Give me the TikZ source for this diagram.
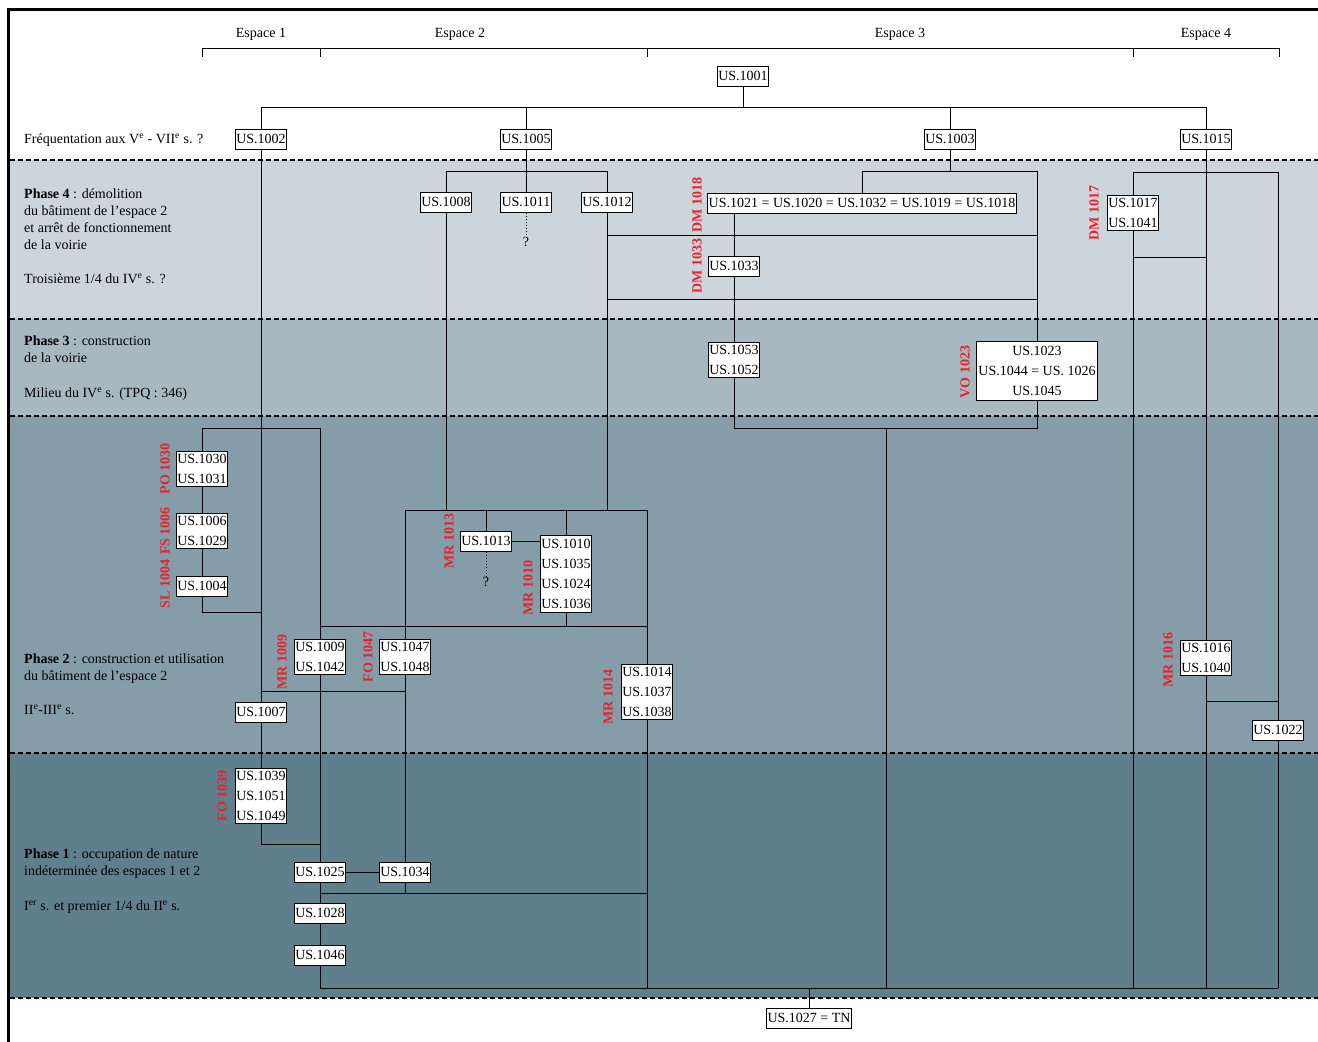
\documentclass[tikz,border=0pt]{standalone}
\usepackage{fontspec}
\setmainfont{Liberation Serif}
\definecolor{bandD}{HTML}{CBD5DB}
\definecolor{bandC}{HTML}{A8B8C1}
\definecolor{bandB}{HTML}{849DA9}
\definecolor{bandA}{HTML}{5F7F8C}
\definecolor{labred}{HTML}{E8212B}
\newcommand\usf{\fontsize{14}{20}\selectfont}
\begin{document}
\begin{tikzpicture}[x=1pt,y=-1pt,
  us/.style={draw, line width=1pt, fill=white, font=\usf, inner xsep=1.2pt, inner ysep=3pt, minimum height=20pt, align=center},
  lab/.style={rotate=90, text=labred, font=\usf\bfseries, inner sep=0pt},
  txt/.style={anchor=base west, font=\usf, inner sep=0pt},
  esp/.style={anchor=base, font=\usf, inner sep=0pt},
  con/.style={line width=1pt},
  sep/.style={line width=1.8pt, dash pattern=on 5pt off 3pt}]
\useasboundingbox (0,0) rectangle (1318,1042);
% bands
\fill[bandD] (10,160) rectangle (1318,319);
\fill[bandC] (10,319) rectangle (1318,416);
\fill[bandB] (10,416) rectangle (1318,753);
\fill[bandA] (10,753) rectangle (1318,998);
\draw[line width=2.5pt] (1318,9.5) -- (8.5,9.5) -- (8.5,1042);
\foreach \yy in {160,319,416,753,998} \draw[sep] (10,\yy) -- (1318,\yy);
% espaces
\draw[line width=1pt] (202,57) -- (202,48) -- (1279,48) -- (1279,57);
\foreach \xx in {320,647,1133} \draw[line width=1pt] (\xx,48) -- (\xx,57);
\node[esp] (e1) at (261,37.5) {Espace 1};
\node[esp] (e2) at (460,37.5) {Espace 2};
\node[esp] (e3) at (900,37.5) {Espace 3};
\node[esp] (e4) at (1206,37.5) {Espace 4};
% phase texts
\node[txt] (t0) at (24,143.5) {Fréquentation aux V\textsuperscript{e} - VII\textsuperscript{e} s. ?};
\node[txt] (t4a) at (24,198.5) {\textbf{Phase 4} : démolition};
\node[txt] (t4b) at (24,215.5) {du bâtiment de l’espace 2};
\node[txt] (t4c) at (24,232.5) {et arrêt de fonctionnement};
\node[txt] (t4d) at (24,249.5) {de la voirie};
\node[txt] (t4e) at (24,283.5) {Troisième 1/4 du IV\textsuperscript{e} s. ?};
\node[txt] (t3a) at (24,345.5) {\textbf{Phase 3} : construction};
\node[txt] (t3b) at (24,362.5) {de la voirie};
\node[txt] (t3c) at (24,397.5) {Milieu du IV\textsuperscript{e} s. (TPQ : 346)};
\node[txt] (t2a) at (24,663.5) {\textbf{Phase 2} : construction et utilisation};
\node[txt] (t2b) at (24,680.5) {du bâtiment de l’espace 2};
\node[txt] (t2c) at (24,714.5) {II\textsuperscript{e}-III\textsuperscript{e} s.};
\node[txt] (t1a) at (24,858.5) {\textbf{Phase 1} : occupation de nature};
\node[txt] (t1b) at (24,875.5) {indéterminée des espaces 1 et 2};
\node[txt] (t1c) at (24,910.5) {I\textsuperscript{er} s. et premier 1/4 du II\textsuperscript{e} s.};
% bus coordinates
\coordinate (yA) at (0,107);
\coordinate (yB) at (0,171);
\coordinate (yC) at (0,172);
\coordinate (yD) at (0,428);
\coordinate (yE) at (0,510);
\coordinate (yG) at (0,626);
\coordinate (yF) at (0,988);
% nodes
\node[us] (n1001) at (743,76) {US.1001};
\node[us] (n1002) at (261,139) {US.1002};
\node[us] (n1005) at (526,139) {US.1005};
\node[us] (n1003) at (950,139) {US.1003};
\node[us] (n1015) at (1206,139) {US.1015};
\node[us] (n1008) at (446,202) {US.1008};
\node[us] (n1011) at (526,202) {US.1011};
\node[us] (n1012) at (607,202) {US.1012};
\node[us] (n1021) at (862,203) {US.1021 = US.1020 = US.1032 = US.1019 = US.1018};
\node[us] (n1017) at (1133,213) {US.1017\\US.1041};
\node[us] (n1033) at (734,266) {US.1033};
\node[us] (n1053) at (734,360) {US.1053\\US.1052};
\node[us, inner ysep=4.5pt, inner xsep=2pt] (n1023) at (1037,371) {US.1023\\US.1044 = US. 1026\\US.1045};
\node[us] (n1030) at (202,469) {US.1030\\US.1031};
\node[us] (n1006) at (202,531) {US.1006\\US.1029};
\node[us] (n1004) at (202,586) {US.1004};
\node[us] (n1013) at (486,541) {US.1013};
\node[us, inner ysep=4pt] (n1010) at (566,574) {US.1010\\US.1035\\US.1024\\US.1036};
\node[us] (n1009) at (320,657) {US.1009\\US.1042};
\node[us] (n1047) at (405,657) {US.1047\\US.1048};
\node[us] (n1014) at (647,692) {US.1014\\US.1037\\US.1038};
\node[us] (n1016) at (1206,658) {US.1016\\US.1040};
\node[us] (n1007) at (261,712) {US.1007};
\node[us] (n1022) at (1278,730) {US.1022};
\node[us] (n1039) at (261,796) {US.1039\\US.1051\\US.1049};
\node[us] (n1025) at (320,872) {US.1025};
\node[us] (n1034) at (405,872) {US.1034};
\node[us] (n1028) at (320,913) {US.1028};
\node[us] (n1046) at (320,955) {US.1046};
\node[us] (n1027) at (809,1018) {US.1027 = TN};
\node[font=\usf, inner sep=0pt] (q1011) at (526,242) {?};
\node[font=\usf, inner sep=0pt] (q1013) at (486,582) {?};
% red labels
\node[lab] (l1018) at (697,205) {DM 1018};
\node[lab] (l1033) at (697,266) {DM 1033};
\node[lab] (l1017) at (1094,213) {DM 1017};
\node[lab] (l1023) at (965,372) {VO 1023};
\node[lab] (l1030) at (165,469) {PO 1030};
\node[lab] (l1006) at (165,531) {FS 1006};
\node[lab] (l1004) at (165,584) {SL 1004};
\node[lab] (l1013) at (449,541) {MR 1013};
\node[lab] (l1010) at (528,588) {MR 1010};
\node[lab] (l1009) at (282,662) {MR 1009};
\node[lab] (l1047) at (368,657) {FO 1047};
\node[lab] (l1014) at (608,697) {MR 1014};
\node[lab] (l1016) at (1168,660) {MR 1016};
\node[lab] (l1039) at (222,796) {FO 1039};
% connectors: top
\draw[con] (n1001.south) -- (n1001.south |- yA);
\draw[con] (n1002.north) |- (n1015.north |- yA) -- (n1015.north);
\draw[con] (n1005.north) -- (n1005.north |- yA);
\draw[con] (n1003.north) -- (n1003.north |- yA);
% 1005
\draw[con] (n1005.south) -- (n1005.south |- yB);
\draw[con] (n1008.north) |- (n1012.north |- yB) -- (n1012.north);
\draw[con] (n1011.north) -- (n1011.north |- yB);
\draw[con, dotted] (n1011.south) -- (q1011.north);
% 1003
\draw[con] (n1003.south) -- (n1003.south |- yB);
\draw[con] (n1021.north) |- (n1023.north |- yB) -- (n1023.north);
\draw[con] (n1021.south -| n1033.north) -- (n1033.north);
\draw[con] (n1033.south) -- (n1053.north);
\draw[con] (n1053.south) |- (n1023.south |- yD) -- (n1023.south);
\draw[con] (886,428) -- (886,988);
% 1012
\draw[con] (n1012.south) -- (n1012.south |- yE);
\draw[con] (607,235) -- (1037,235);
\draw[con] (607,299) -- (1037,299);
% 1015
\draw[con] (n1015.south) -- (n1016.north);
\draw[con] (n1017.north) |- (n1022.north |- yC) -- (n1022.north);
\draw[con] (n1017.south) -- (n1017.south |- yF);
\draw[con] (1133,257) -- (1206,257);
\draw[con] (n1016.south) -- (n1016.south |- yF);
\draw[con] (1206,701) -- (1278,701);
\draw[con] (n1022.south) -- (n1022.south |- yF);
% left
\draw[con] (n1002.south) -- (n1007.north);
\draw[con] (n1030.north) |- (n1009.north |- yD) -- (n1009.north);
\draw[con] (n1030.south) -- (n1006.north);
\draw[con] (n1006.south) -- (n1004.north);
\draw[con] (n1004.south) |- (261,612);
\draw[con] (n1008.south) -- (n1008.south |- yE);
\draw[con] (n1047.north) |- (n1014.north |- yE) -- (n1014.north);
\draw[con] (n1013.north) -- (n1013.north |- yE);
\draw[con] (n1010.north) -- (n1010.north |- yE);
\draw[con] (n1013.east) -- (n1013.east -| n1010.west);
\draw[con, dotted] (n1013.south) -- (q1013.north);
\draw[con] (n1010.south) -- (n1010.south |- yG);
\draw[con] (320,626) -- (647,626);
\draw[con] (n1009.south) -- (n1025.north);
\draw[con] (261,691) -- (405,691);
\draw[con] (n1047.south) -- (n1034.north);
\draw[con] (n1007.south) -- (n1039.north);
\draw[con] (n1039.south) |- (320,844);
\draw[con] (n1025.east) -- (n1034.west);
\draw[con] (n1025.south) -- (n1028.north);
\draw[con] (n1028.south) -- (n1046.north);
\draw[con] (n1046.south) |- (n1022.south |- yF);
\draw[con] (n1034.south) -- (405,893);
\draw[con] (320,893) -- (647,893);
\draw[con] (n1014.south) -- (647,988);
\draw[con] (n1027.north) -- (n1027.north |- yF);
\end{tikzpicture}
\end{document}
